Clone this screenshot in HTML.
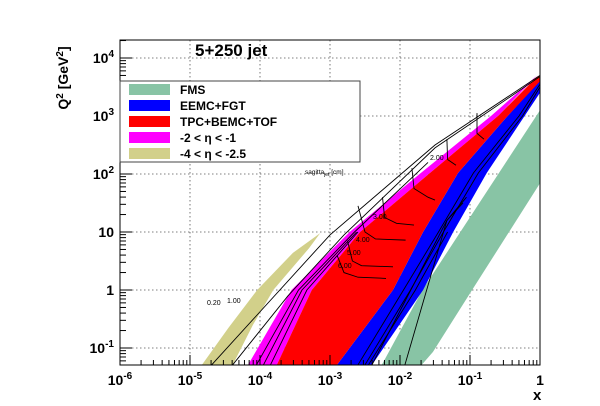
<!DOCTYPE html>
<html><head><meta charset="utf-8"><style>
html,body{margin:0;padding:0;background:#fff}
svg{display:block;font-family:"Liberation Sans",sans-serif}
</style></head><body>
<svg id="c" width="600" height="406" viewBox="0 0 600 406">
<rect x="0" y="0" width="600" height="406" fill="#fff"/>
<g id="grid"></g>
<g id="bands"></g>
<g id="lines"></g>
<rect x="120" y="40" width="420" height="325" fill="none" stroke="#000" stroke-width="1"/>
<g id="ticks"></g>
<text x="195" y="56" font-size="17" font-weight="bold">5+250 jet</text>
<g>
<rect x="120" y="81" width="240" height="81" fill="#fff" stroke="#444" stroke-width="1"/>
<g><rect x="129" y="84" width="41" height="11" fill="#88c4a5"/><text x="180" y="94" font-size="12" font-weight="bold">FMS</text></g>
<g><rect x="129" y="100" width="41" height="11" fill="#0000ff"/><text x="180" y="110" font-size="12" font-weight="bold">EEMC+FGT</text></g>
<g><rect x="129" y="116" width="41" height="11" fill="#ff0000"/><text x="180" y="126" font-size="12" font-weight="bold">TPC+BEMC+TOF</text></g>
<g><rect x="129" y="132" width="41" height="11" fill="#ff00ff"/><text x="180" y="142" font-size="12" font-weight="bold">-2 &lt; η &lt; -1</text></g>
<g><rect x="129" y="148" width="41" height="11" fill="#d2d08a"/><text x="180" y="158" font-size="12" font-weight="bold">-4 &lt; η &lt; -2.5</text></g>
</g>
<text x="305" y="174" font-size="6.5">sagitta<tspan font-size="5" dy="2">jet</tspan><tspan dy="-2"> [cm]</tspan></text>
<g font-size="7">
<text x="207" y="305">0.20</text><text x="227" y="303">1.00</text>
<text x="338" y="268">6.00</text><text x="347" y="255">5.00</text><text x="356" y="242">4.00</text>
<text x="373" y="219">3.00</text><text x="430" y="160">2.00</text>
</g>
<text transform="translate(68,78) rotate(-90)" text-anchor="middle" font-size="14" font-weight="bold">Q<tspan font-size="10" dy="-5">2</tspan><tspan dy="5"> [GeV</tspan><tspan font-size="10" dy="-5">2</tspan><tspan dy="5">]</tspan></text>
<text x="533" y="400" font-size="15" font-weight="bold">x</text>
</svg>
<script>
const xDecades=[-6,-5,-4,-3,-2,-1,0];
const yDecades=[-1,0,1,2,3,4];
const xTickLabels=["-6","-5","-4","-3","-2","-1",""];
const yTickLabels=["-1","1","10","2","3","4"];
const fmsBand=[[-2.26,-1.29],[-1.68,0],[0,3.10],[0,1.84],[-0.97,0],[-1.53,-1.07],[-1.69,-1.29]];
const eemcBand=[[-2.90,-1.29],[-2.1,0],[-1.67,1],[-1.17,2.02],[-0.5,2.95],[0,3.62],[0,3.4],[-0.76,2.02],[-1.24,1],[-1.67,0],[-2.40,-1.29]];
const tpcBand=[[-3.76,-1.29],[-3.26,0],[-2.57,1],[-1.57,2.02],[-0.6,3.0],[-0.04,3.68],[0,3.68],[0,3.6],[-0.5,2.95],[-1.17,2.02],[-1.67,1],[-2.1,0],[-2.90,-1.29]];
const magentaBand=[[-4.17,-1.29],[-3.55,0],[-2.72,1],[-1.72,2.0],[-0.7,3.0],[-0.04,3.7],[-0.6,3.0],[-1.57,2.02],[-2.57,1],[-3.26,0],[-3.76,-1.29]];
const oliveBand=[[-4.83,-1.29],[-4.45,-0.65],[-4.04,0],[-3.53,0.64],[-3.14,0.98],[-3.3,0.72],[-3.81,0],[-4.1,-0.6],[-4.39,-1.29]];
const contourLines=[
 [[-4.69,-1.29],[-3.0,0.95],[-1.5,2.5],[0,3.7]],
 [[-4.39,-1.29],[-3.6,-0.1],[-2.8,0.95],[-1.5,2.45],[0,3.68]],
 [[-4.05,-1.29],[-3.45,0],[-2.65,1],[-1.6,2.2]],
 [[-3.95,-1.29],[-3.4,0],[-2.62,1]],
 [[-3.85,-1.29],[-3.33,0],[-2.6,1]],
 [[-2.6,-1.29],[-1.95,0],[-1.45,1],[-0.95,2.02],[-0.3,3.0],[0,3.55]],
 [[-2.5,-1.29],[-1.85,0],[-1.38,1],[-0.88,2.02],[-0.25,3.0],[0,3.5]],
 [[-2.45,-1.29],[-1.78,0],[-1.32,1]],
 [[-2.4,-1.29],[-1.33,1.2],[-1.05,1.6]],
 [[-1.93,-1.29],[-1.33,1.2],[-1.1,1.5]],
 [[-2.6,1.45],[-2.5,1.0],[-2.35,0.88],[-1.92,0.86]],
 [[-2.75,0.85],[-2.68,0.5],[-2.55,0.42],[-2.1,0.40]],
 [[-2.9,0.6],[-2.8,0.3],[-2.6,0.22],[-2.2,0.2]],
 [[-2.25,1.6],[-2.22,1.25],[-2.05,1.15],[-1.8,1.12]],
 [[-1.83,2.1],[-1.8,1.75],[-1.6,1.6],[-1.5,1.55]],
 [[-1.33,2.6],[-1.32,2.25],[-1.2,2.15]],
 [[-0.9,3.05],[-0.9,2.7],[-0.8,2.6]]
];
const NS="http://www.w3.org/2000/svg";
function X(l){return 120+70*(l+6);}
function Y(l){return 232-(l-1)*58;}
const XMIN=-6,XMAX=0,YMIN=-1.29,YMAX=4.31;
function mk(tag,attrs,parent){const e=document.createElementNS(NS,tag);for(const k in attrs)e.setAttribute(k,attrs[k]);parent.appendChild(e);return e;}
const grid=document.getElementById('grid'),bands=document.getElementById('bands'),lines=document.getElementById('lines'),ticks=document.getElementById('ticks');
xDecades.forEach(d=>{if(d>XMIN&&d<XMAX){const l=mk('line',{x1:X(d),x2:X(d),y1:40,y2:365,stroke:'#555','stroke-dasharray':'1.5,2.5','stroke-width':0.8},grid);}});
yDecades.forEach(d=>{const l=mk('line',{x1:120,x2:540,y1:Y(d),y2:Y(d),stroke:'#555','stroke-dasharray':'1.5,2.5','stroke-width':0.8},grid);});
function poly(pts,fill,name){const p=mk('polygon',{points:pts.map(q=>X(q[0])+','+Y(q[1])).join(' '),fill:fill},bands);}
poly(fmsBand,'#88c4a5','band-fms');
poly(oliveBand,'#d2d08a','band-eta-4-2.5');
poly(magentaBand,'#ff00ff','band-eta-2-1');
poly(eemcBand,'#0000ff','band-eemc-fgt');
poly(tpcBand,'#ff0000','band-tpc-bemc-tof');
contourLines.forEach(c=>{const p=mk('polyline',{points:c.map(q=>X(q[0])+','+Y(q[1])).join(' '),fill:'none',stroke:'#000','stroke-width':0.9},lines);});
// x ticks
xDecades.forEach((d,i)=>{
 const t=mk('line',{x1:X(d),x2:X(d),y1:365,y2:355,stroke:'#000'},ticks);
 for(let k=2;k<10&&d<XMAX;k++){const v=d+Math.log10(k);const m=mk('line',{x1:X(v),x2:X(v),y1:365,y2:360,stroke:'#000'},ticks);}
 const tx=mk('text',{x:X(d),y:385,'text-anchor':'middle','font-size':14,'font-weight':'bold'},ticks);
 if(xTickLabels[i]===""){tx.textContent="1";}else{tx.innerHTML='10<tspan font-size="10" dy="-6">'+xTickLabels[i]+'</tspan>';}
});
// y ticks
yDecades.forEach((d,i)=>{
 const t=mk('line',{x1:120,x2:132,y1:Y(d),y2:Y(d),stroke:'#000'},ticks);
 const tx=mk('text',{x:114,y:Y(d)+5,'text-anchor':'end','font-size':14,'font-weight':'bold'},ticks);
 const s=yTickLabels[i];
 if(s==="1"||s==="10"){tx.textContent=s;}else{tx.innerHTML='10<tspan font-size="10" dy="-6">'+s+'</tspan>';}
});
for(let d=-2;d<=4;d++){for(let k=2;k<10;k++){const v=d+Math.log10(k);if(v>YMIN&&v<YMAX){const m=mk('line',{x1:120,x2:126,y1:Y(v),y2:Y(v),stroke:'#000'},ticks);}}}
</script>
</body></html>
